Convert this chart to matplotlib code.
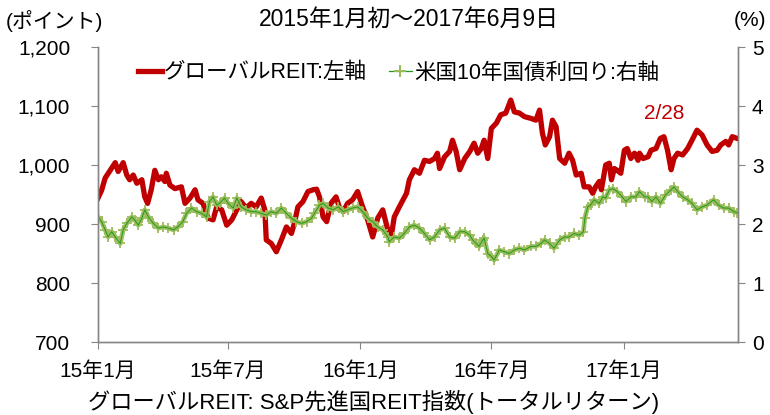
import matplotlib
matplotlib.use('Agg')
import matplotlib.pyplot as plt
import matplotlib.ticker as mticker
from matplotlib.lines import Line2D
import pandas as pd

plt.rcParams['font.family'] = ['Liberation Sans', 'Noto Sans CJK JP', 'DejaVu Sans']

start = pd.Timestamp('2015-01-01')
end = pd.Timestamp('2017-06-09')

# global REIT index (left axis), days after 2015-01-01
reit_day = [0, 5, 10, 17, 24, 28, 35, 40, 44, 49, 54, 61, 65, 69, 74, 79, 84, 88, 93, 95,
            100, 107, 116, 121, 128, 135, 139, 146, 153, 160, 165, 172, 179, 186, 193, 199,
            206, 213, 220, 227, 232, 234, 241, 248, 255, 262, 269, 273, 278, 285, 292, 299,
            304, 308, 313, 318, 324, 331, 336, 341, 347, 354, 361, 368, 375, 382, 389, 396,
            403, 408, 412, 419, 429, 433, 440, 447, 454, 461, 468, 472, 475, 482, 489, 493,
            498, 503, 510, 517, 523, 528, 533, 537, 542, 547, 554, 560, 567, 574, 579, 586,
            593, 602, 609, 614, 618, 622, 628, 632, 637, 642, 649, 655, 660, 665, 672, 676,
            683, 688, 692, 697, 700, 706, 711, 714, 718, 722, 727, 732, 736, 741, 746, 751,
            753, 758, 765, 769, 776, 782, 787, 792, 797, 801, 806, 813, 820, 826, 833, 840,
            847, 854, 861, 866, 873, 877, 882, 889]
reit_val = [944, 957, 978, 991, 1004, 989, 1004, 983, 975, 983, 969, 975, 946, 935, 958, 991, 975, 980, 972, 986,
            966, 960, 963, 935, 944, 958, 941, 935, 910, 907, 929, 924, 898, 907, 924, 938,
            927, 935, 929, 944, 924, 873, 867, 853, 873, 895, 884, 901, 929, 938, 955, 958,
            959, 946, 912, 904, 935, 946, 927, 921, 935, 941, 955, 929, 907, 878, 910, 924,
            890, 881, 912, 929, 952, 975, 992, 986, 1008, 1006, 1011, 1020, 994, 1014, 1023, 1042,
            1023, 992, 1011, 1023, 1037, 1020, 1028, 1042, 1011, 1062, 1071, 1085, 1088, 1110, 1090, 1088,
            1082, 1079, 1076, 1093, 1054, 1034, 1048, 1076, 1065, 1011, 1003, 1020, 1008, 983, 986, 963,
            963, 952, 963, 972, 958, 1000, 1003, 975, 994, 991, 986, 1025, 1028, 1011, 1020, 1008,
            1020, 1011, 1014, 1025, 1028, 1045, 1048, 1025, 992, 1011, 1020, 1017, 1028, 1042, 1059, 1051,
            1034, 1023, 1025, 1034, 1040, 1034, 1048, 1045]

# US 10y treasury yield (right axis)
ust_day = [0, 5, 10, 14, 19, 24, 31, 35, 40, 47, 51, 56, 61, 65, 70, 77, 84, 91, 98, 105,
           111, 118, 123, 130, 137, 144, 151, 155, 160, 165, 169, 176, 181, 188, 193, 199,
           206, 213, 220, 227, 234, 241, 248, 255, 262, 269, 276, 283, 290, 297, 301, 308,
           313, 320, 327, 334, 341, 347, 354, 361, 368, 375, 382, 389, 396, 403, 405, 412,
           419, 426, 433, 440, 447, 454, 461, 468, 475, 482, 489, 496, 503, 510, 517, 521,
           526, 530, 535, 537, 542, 547, 551, 558, 565, 572, 579, 586, 593, 602, 609, 616,
           621, 628, 634, 642, 649, 655, 662, 669, 675, 677, 681, 685, 690, 697, 702, 706,
           711, 716, 722, 729, 734, 741, 748, 753, 760, 765, 770, 776, 782, 789, 797, 801,
           806, 813, 820, 826, 833, 840, 847, 856, 863, 870, 877, 884, 889]
ust_val = [2.12, 2.04, 1.90, 1.78, 1.87, 1.78, 1.67, 1.90, 2.01, 2.12, 2.07, 1.98, 2.10, 2.24, 2.12, 2.01, 1.93, 1.95, 1.93, 1.90,
           1.95, 2.04, 2.18, 2.27, 2.21, 2.18, 2.12, 2.38, 2.46, 2.32, 2.35, 2.44, 2.35, 2.27, 2.44, 2.29,
           2.24, 2.21, 2.21, 2.18, 2.15, 2.21, 2.18, 2.27, 2.18, 2.10, 2.04, 2.01, 2.04, 2.10, 2.18, 2.32,
           2.35, 2.27, 2.24, 2.29, 2.21, 2.24, 2.27, 2.29, 2.21, 2.10, 2.04, 1.95, 1.90, 1.78, 1.70, 1.78,
           1.76, 1.84, 1.95, 1.98, 1.93, 1.84, 1.73, 1.78, 1.90, 1.93, 1.78, 1.76, 1.87, 1.87, 1.81, 1.73,
           1.67, 1.62, 1.73, 1.76, 1.50, 1.45, 1.39, 1.56, 1.53, 1.50, 1.56, 1.59, 1.56, 1.62, 1.62, 1.67,
           1.73, 1.67, 1.59, 1.73, 1.78, 1.78, 1.84, 1.81, 1.87, 2.10, 2.29, 2.32, 2.41, 2.35, 2.46, 2.44,
           2.58, 2.60, 2.55, 2.46, 2.38, 2.46, 2.46, 2.55, 2.46, 2.46, 2.38, 2.46, 2.35, 2.49, 2.58, 2.63,
           2.55, 2.46, 2.41, 2.35, 2.24, 2.29, 2.32, 2.41, 2.32, 2.27, 2.27, 2.21, 2.19]

tick_dates = ['2015-01-01', '2015-07-01', '2016-01-01', '2016-07-01', '2017-01-01']
tick_labels = ['15年1月', '15年7月', '16年1月', '16年7月', '17年1月']

reit_dates = start + pd.to_timedelta(reit_day, unit='D')
ust_dates = start + pd.to_timedelta(ust_day, unit='D')

red = '#C00000'
dkgreen = '#1E9A1E'
ltgreen = '#9BBB59'
grey = '#868686'
fs = 15

fig = plt.figure(figsize=(7.7, 4.15), dpi=100)
ax = fig.add_axes([98/770, 73/415, 640/770, 295/415])
ax2 = ax.twinx()

ax.plot(reit_dates, reit_val, color=red, linewidth=3.8, solid_joinstyle='round')
ax2.plot(ust_dates, ust_val, color=ltgreen, linewidth=3.4, alpha=0.9,
         marker='+', markersize=7.5, markeredgewidth=1.4, markeredgecolor=ltgreen)
ax2.plot(ust_dates, ust_val, color=dkgreen, linewidth=0.7)

ax.set_xlim(start, end)
ax.set_ylim(700, 1200)
ax2.set_ylim(0, 5)
ax.set_yticks(range(700, 1201, 100))
ax.yaxis.set_major_formatter(mticker.FuncFormatter(lambda v, p: f'{v:,.0f}'))
ax2.set_yticks(range(0, 6))
ax.set_xticks(pd.to_datetime(tick_dates))
ax.set_xticklabels(tick_labels)

for a in (ax, ax2):
    a.spines['top'].set_visible(False)
    for s in ('left', 'right', 'bottom'):
        a.spines[s].set_color(grey)
        a.spines[s].set_linewidth(1.0)
ax.tick_params(axis='y', length=5, color=grey, labelsize=fs, pad=15)
ax.tick_params(axis='x', length=5, color=grey, labelsize=fs, pad=9)
ax2.tick_params(axis='y', length=5, color=grey, labelsize=fs, pad=5)

handles = [Line2D([], [], color=red, linewidth=3.8),
           Line2D([], [], color=dkgreen, linewidth=0.9, marker='+', markersize=8,
                  markeredgewidth=1.4, markeredgecolor=ltgreen)]
ax2.legend(handles, ['グローバルREIT:左軸', '米国10年国債利回り:右軸'], loc='center',
           bbox_to_anchor=(0.47, 0.912), ncol=2, frameon=False, fontsize=fs + 0.5,
           handlelength=1.1, handletextpad=0.1, columnspacing=1.0)

ax.text(pd.Timestamp('2017-02-26'), 1088, '2/28', color=red, fontsize=fs,
        ha='center', va='center')

fig.text(409/770, 1 - 19/415, '2015年1月初～2017年6月9日', fontsize=fs + 1.5, ha='center', va='center')
fig.text(6/770, 1 - 21/415, '(ポイント)', fontsize=fs, ha='left', va='center')
fig.text(766/770, 1 - 21/415, '(%)', fontsize=fs, ha='right', va='center')
fig.text(88/770, 1 - 402/415, 'グローバルREIT: S&P先進国REIT指数(トータルリターン)', fontsize=fs + 1,
         ha='left', va='center')

plt.savefig('out.png', dpi=100)
